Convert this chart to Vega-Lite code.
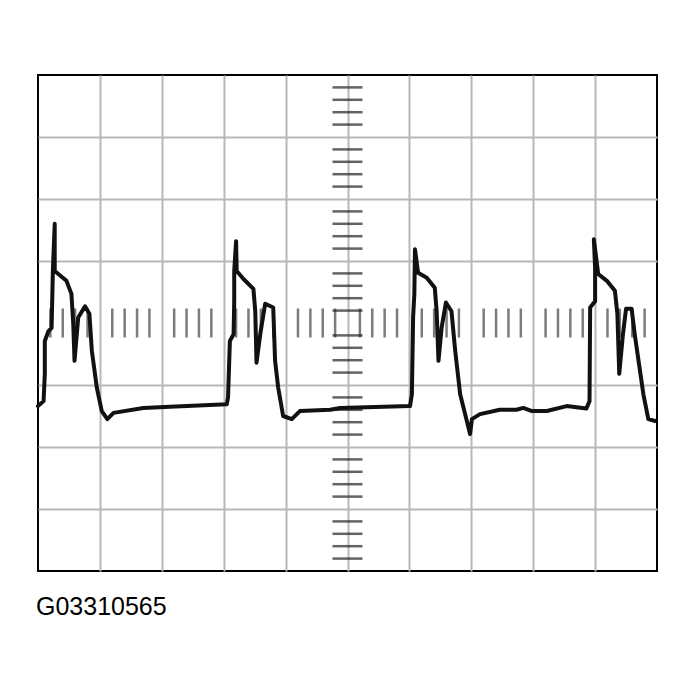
{
  "$schema": "https://vega.github.io/schema/vega-lite/v6.json",
  "width": 619,
  "height": 496,
  "autosize": {"type": "none"},
  "padding": {"left": 38, "top": 75, "right": 39, "bottom": 120},
  "background": "white",
  "view": {"stroke": "black", "strokeWidth": 2},
  "title": {
    "text": "G03310565",
    "orient": "bottom",
    "anchor": "start",
    "baseline": "alphabetic",
    "offset": 44,
    "font": "Liberation Sans",
    "fontSize": 25,
    "fontWeight": "normal",
    "color": "black"
  },
  "config": {
    "axis": {"grid": true, "gridColor": "#b8b8b8", "gridWidth": 2, "labels": false, "ticks": false, "domain": false, "title": null}
  },
  "datasets": {
    "wave": [
      {"i": 1, "t": 0.0, "v": -1.34},
      {"i": 2, "t": 0.09, "v": -1.26},
      {"i": 3, "t": 0.11, "v": -0.82},
      {"i": 4, "t": 0.11, "v": -0.29},
      {"i": 5, "t": 0.17, "v": -0.13},
      {"i": 6, "t": 0.22, "v": -0.08},
      {"i": 7, "t": 0.24, "v": 0.84},
      {"i": 8, "t": 0.27, "v": 1.6},
      {"i": 9, "t": 0.27, "v": 0.84},
      {"i": 10, "t": 0.46, "v": 0.68},
      {"i": 11, "t": 0.54, "v": 0.47},
      {"i": 12, "t": 0.57, "v": -0.02},
      {"i": 13, "t": 0.59, "v": -0.61},
      {"i": 14, "t": 0.65, "v": 0.09},
      {"i": 15, "t": 0.76, "v": 0.27},
      {"i": 16, "t": 0.83, "v": 0.15},
      {"i": 17, "t": 0.87, "v": -0.45},
      {"i": 18, "t": 0.95, "v": -1.04},
      {"i": 19, "t": 1.03, "v": -1.42},
      {"i": 20, "t": 1.12, "v": -1.55},
      {"i": 21, "t": 1.22, "v": -1.45},
      {"i": 22, "t": 1.7, "v": -1.37},
      {"i": 23, "t": 2.13, "v": -1.35},
      {"i": 24, "t": 3.05, "v": -1.31},
      {"i": 25, "t": 3.07, "v": -1.2},
      {"i": 26, "t": 3.1, "v": -0.29},
      {"i": 27, "t": 3.16, "v": -0.18},
      {"i": 28, "t": 3.17, "v": 0.35},
      {"i": 29, "t": 3.17, "v": 0.84},
      {"i": 30, "t": 3.2, "v": 1.32},
      {"i": 31, "t": 3.21, "v": 0.84},
      {"i": 32, "t": 3.32, "v": 0.71},
      {"i": 33, "t": 3.48, "v": 0.55},
      {"i": 34, "t": 3.51, "v": 0.19},
      {"i": 35, "t": 3.53, "v": -0.64},
      {"i": 36, "t": 3.59, "v": -0.18},
      {"i": 37, "t": 3.67, "v": 0.31},
      {"i": 38, "t": 3.8, "v": 0.25},
      {"i": 39, "t": 3.83, "v": -0.61},
      {"i": 40, "t": 3.88, "v": -1.04},
      {"i": 41, "t": 3.96, "v": -1.5},
      {"i": 42, "t": 4.1, "v": -1.55},
      {"i": 43, "t": 4.23, "v": -1.42},
      {"i": 44, "t": 4.72, "v": -1.4},
      {"i": 45, "t": 4.88, "v": -1.37},
      {"i": 46, "t": 6.01, "v": -1.34},
      {"i": 47, "t": 6.04, "v": -1.15},
      {"i": 48, "t": 6.06, "v": 0.09},
      {"i": 49, "t": 6.08, "v": 0.47},
      {"i": 50, "t": 6.09, "v": 1.19},
      {"i": 51, "t": 6.14, "v": 0.81},
      {"i": 52, "t": 6.28, "v": 0.73},
      {"i": 53, "t": 6.41, "v": 0.57},
      {"i": 54, "t": 6.44, "v": 0.19},
      {"i": 55, "t": 6.47, "v": -0.61},
      {"i": 56, "t": 6.52, "v": -0.08},
      {"i": 57, "t": 6.59, "v": 0.33},
      {"i": 58, "t": 6.68, "v": 0.19},
      {"i": 59, "t": 6.74, "v": -0.45},
      {"i": 60, "t": 6.82, "v": -1.15},
      {"i": 61, "t": 6.9, "v": -1.47},
      {"i": 62, "t": 6.98, "v": -1.79},
      {"i": 63, "t": 7.01, "v": -1.55},
      {"i": 64, "t": 7.14, "v": -1.47},
      {"i": 65, "t": 7.46, "v": -1.4},
      {"i": 66, "t": 7.73, "v": -1.4},
      {"i": 67, "t": 7.84, "v": -1.37},
      {"i": 68, "t": 7.98, "v": -1.42},
      {"i": 69, "t": 8.22, "v": -1.42},
      {"i": 70, "t": 8.54, "v": -1.34},
      {"i": 71, "t": 8.86, "v": -1.38},
      {"i": 72, "t": 8.91, "v": -1.26},
      {"i": 73, "t": 8.92, "v": 0.25},
      {"i": 74, "t": 9.0, "v": 0.35},
      {"i": 75, "t": 9.0, "v": 0.89},
      {"i": 76, "t": 8.98, "v": 1.35},
      {"i": 77, "t": 9.05, "v": 0.79},
      {"i": 78, "t": 9.19, "v": 0.68},
      {"i": 79, "t": 9.32, "v": 0.52},
      {"i": 80, "t": 9.36, "v": 0.15},
      {"i": 81, "t": 9.39, "v": -0.82},
      {"i": 82, "t": 9.45, "v": -0.18},
      {"i": 83, "t": 9.5, "v": 0.23},
      {"i": 84, "t": 9.59, "v": 0.23},
      {"i": 85, "t": 9.64, "v": -0.18},
      {"i": 86, "t": 9.78, "v": -1.15},
      {"i": 87, "t": 9.86, "v": -1.55},
      {"i": 88, "t": 9.97, "v": -1.58}
    ],
    "vticks": [
      {"v": -3.8}, {"v": -3.6}, {"v": -3.4}, {"v": -3.2},
      {"v": -2.8}, {"v": -2.6}, {"v": -2.4}, {"v": -2.2},
      {"v": -1.8}, {"v": -1.6}, {"v": -1.4}, {"v": -1.2},
      {"v": -0.8}, {"v": -0.6}, {"v": -0.4}, {"v": -0.2},
      {"v": 0.2}, {"v": 0.4}, {"v": 0.6}, {"v": 0.8},
      {"v": 1.2}, {"v": 1.4}, {"v": 1.6}, {"v": 1.8},
      {"v": 2.2}, {"v": 2.4}, {"v": 2.6}, {"v": 2.8},
      {"v": 3.2}, {"v": 3.4}, {"v": 3.6}, {"v": 3.8}
    ],
    "hticks": [
      {"t": 0.2}, {"t": 0.4}, {"t": 0.6}, {"t": 0.8},
      {"t": 1.2}, {"t": 1.4}, {"t": 1.6}, {"t": 1.8},
      {"t": 2.2}, {"t": 2.4}, {"t": 2.6}, {"t": 2.8},
      {"t": 3.2}, {"t": 3.4}, {"t": 3.6}, {"t": 3.8},
      {"t": 4.2}, {"t": 4.4}, {"t": 4.6}, {"t": 4.8},
      {"t": 5.2}, {"t": 5.4}, {"t": 5.6}, {"t": 5.8},
      {"t": 6.2}, {"t": 6.4}, {"t": 6.6}, {"t": 6.8},
      {"t": 7.2}, {"t": 7.4}, {"t": 7.6}, {"t": 7.8},
      {"t": 8.2}, {"t": 8.4}, {"t": 8.6}, {"t": 8.8},
      {"t": 9.2}, {"t": 9.4}, {"t": 9.6}, {"t": 9.8}
    ]
  },
  "layer": [
    {
      "data": {"name": "hticks"},
      "mark": {"type": "tick", "orient": "vertical", "size": 29, "thickness": 2.5, "color": "#444444"},
      "encoding": {
        "x": {"field": "t", "type": "quantitative", "scale": {"domain": [0, 10], "nice": false, "zero": false},
              "axis": {"values": [1, 2, 3, 4, 5, 6, 7, 8, 9]}},
        "y": {"datum": 0, "type": "quantitative", "scale": {"domain": [-4, 4], "nice": false},
              "axis": {"values": [-3, -2, -1, 1, 2, 3]}}
      }
    },
    {
      "data": {"name": "vticks"},
      "mark": {"type": "tick", "orient": "horizontal", "size": 30, "thickness": 2.5, "color": "#222222"},
      "encoding": {
        "x": {"datum": 5, "type": "quantitative"},
        "y": {"field": "v", "type": "quantitative"}
      }
    },
    {
      "mark": {"type": "rule", "color": "#7a7a7a", "strokeWidth": 2.5},
      "encoding": {"x": {"datum": 5, "type": "quantitative"}}
    },
    {
      "mark": {"type": "rule", "color": "#7a7a7a", "strokeWidth": 2.5},
      "encoding": {"y": {"datum": 0, "type": "quantitative"}}
    },
    {
      "data": {"name": "wave"},
      "mark": {"type": "line", "color": "#111111", "strokeWidth": 4, "strokeJoin": "round", "strokeCap": "round"},
      "encoding": {
        "x": {"field": "t", "type": "quantitative"},
        "y": {"field": "v", "type": "quantitative"},
        "order": {"field": "i", "type": "quantitative"}
      }
    }
  ]
}
